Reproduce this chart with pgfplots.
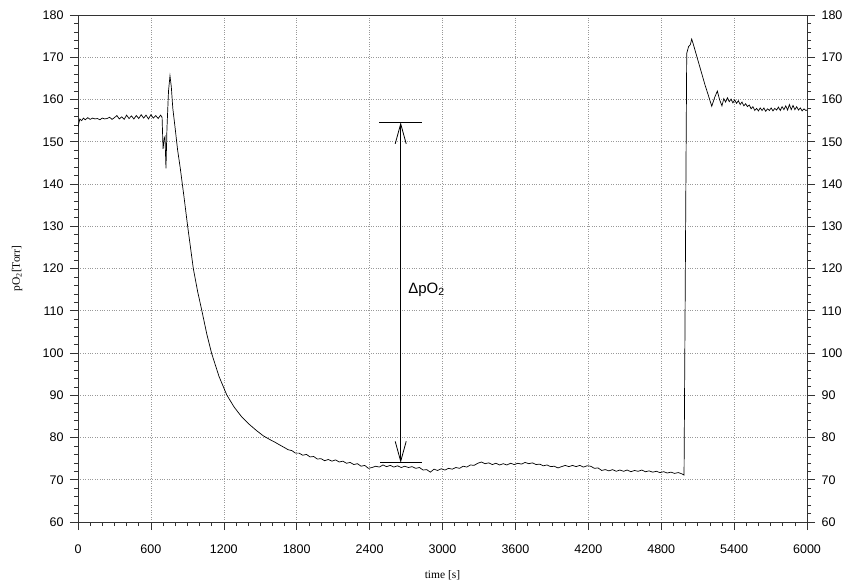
\documentclass[border=0pt]{standalone}
\usepackage{pgfplots}
\pgfplotsset{compat=1.18}
\usepackage{fontspec}
\setmainfont{Liberation Sans}
\newfontfamily\seriffont{Liberation Serif}
\usetikzlibrary{arrows.meta}

\pgfplotstableread{
t v
0 153.5
15 155.4
30 155.0
45 155.6
60 155.2
80 155.7
100 155.3
120 155.6
140 155.4
160 155.5
180 155.2
200 155.6
220 155.4
240 155.5
260 155.8
280 155.3
300 155.7
320 156.2
340 155.4
360 155.9
380 155.3
400 156.3
420 155.5
440 156.1
460 155.4
480 156.2
500 155.5
520 156.4
540 155.6
560 156.3
580 155.4
600 156.4
620 155.6
640 156.2
660 155.5
680 156.3
692 155.8
700 148.3
710 150.8
716 151.2
724 143.7
732 153.0
745 162.0
757 165.6
768 163.0
780 158.0
798 153.6
820 148.0
840 144.1
870 137.5
903 129.9
949 120.0
985 114.5
1018 110.2
1060 104.5
1100 99.9
1160 94.5
1224 90.1
1285 87.2
1347 84.9
1410 83.1
1471 81.6
1525 80.4
1580 79.5
1620 78.9
1650 78.4
1700 77.6
1730 77.1
1760 76.9
1790 76.3
1820 76.3
1850 75.8
1880 76.0
1910 75.4
1940 75.5
1970 74.9
2000 75.0
2030 74.5
2060 74.8
2090 74.4
2120 74.7
2150 74.2
2180 74.4
2210 73.9
2240 74.1
2270 73.6
2300 73.8
2330 73.2
2360 73.4
2390 72.7
2420 72.9
2450 73.2
2480 73.0
2510 73.5
2540 73.1
2570 73.4
2600 73.0
2630 73.3
2660 72.9
2690 73.2
2720 72.9
2750 73.1
2780 72.7
2810 72.9
2840 72.3
2870 72.4
2900 71.8
2930 72.5
2960 72.2
2990 72.6
3020 72.3
3050 72.7
3080 72.5
3110 72.9
3140 72.7
3170 73.2
3200 73.0
3230 73.5
3260 73.4
3290 73.9
3320 74.2
3350 73.8
3380 74.0
3410 73.6
3440 73.9
3470 73.5
3500 73.8
3530 73.5
3560 73.9
3590 73.6
3620 73.9
3650 73.7
3680 74.1
3710 73.8
3740 74.0
3770 73.6
3800 73.7
3830 73.3
3860 73.5
3890 73.1
3920 73.2
3950 72.8
3980 73.1
4010 73.4
4040 73.1
4070 73.4
4100 73.1
4130 73.4
4160 73.0
4190 73.3
4220 73.2
4250 72.7
4280 72.8
4310 72.2
4340 72.4
4370 72.1
4400 72.4
4430 72.0
4460 72.3
4490 72.0
4520 72.3
4550 71.9
4580 72.2
4610 72.0
4640 72.3
4670 71.9
4700 72.1
4730 71.8
4760 72.0
4790 71.7
4820 71.9
4850 71.6
4880 71.8
4910 71.5
4940 71.7
4970 71.4
4988 71.1
5010 170.9
5025 172.5
5040 173.0
5051 174.3
5065 173.0
5078 171.7
5100 169.5
5133 166.2
5160 163.5
5190 160.8
5216 158.4
5240 160.5
5262 162.0
5280 160.0
5300 158.5
5315 160.2
5330 159.4
5345 160.4
5360 159.5
5375 160.1
5390 159.2
5405 159.9
5420 159.1
5435 159.7
5450 158.8
5465 159.4
5480 158.5
5495 159.0
5510 158.3
5525 158.7
5540 157.8
5555 158.3
5570 157.4
5585 157.9
5600 157.3
5615 158.0
5630 157.4
5645 158.0
5660 157.2
5675 157.8
5690 157.4
5705 158.0
5720 157.3
5735 157.9
5750 157.5
5765 158.2
5780 157.4
5795 158.3
5810 157.6
5825 158.5
5840 157.5
5855 158.8
5870 157.6
5885 158.6
5900 157.6
5915 158.3
5930 157.5
5945 158.0
5960 157.3
5975 157.8
5990 157.4
6000 157.5
}\datatable

\pgfplotsset{
  myaxis/.style={
    scale only axis, width=729pt, height=507pt,
    at={(78pt,62pt)}, anchor=south west,
    xmin=0, xmax=6000, ymin=60, ymax=180,
    xtick={0,600,...,6000}, ytick={60,70,...,180},
    minor x tick num=5, minor y tick num=4,
    tick align=outside, major tick length=8pt, minor tick length=4pt,
    tick style={black!80, line width=0.6pt},
    axis line style={black!80, line width=0.7pt},
    ticklabel style={font=\fontsize{12.5}{14}\selectfont},
    /pgf/number format/assume math mode=true,
    /pgf/number format/1000 sep={},
  }
}

\begin{document}
\begin{tikzpicture}
\path[use as bounding box] (0pt,0pt) rectangle (854pt,584pt);
\begin{axis}[myaxis,
  xtick pos=left, ytick pos=left,
  xticklabel style={yshift=-11pt},
  yticklabel style={xshift=-3pt},
  grid=major, major grid style={dotted, black!40, line width=0.6pt},
  xlabel={\seriffont time [s]},
  xlabel style={font=\fontsize{11.5}{13}\selectfont, at={(axis description cs:0.5,0)}, yshift=-53pt, anchor=center},
  ylabel={\seriffont pO\textsubscript{2}[Torr]},
  ylabel style={font=\fontsize{11.5}{13}\selectfont, at={(axis description cs:0,0.5)}, yshift=61pt, anchor=center},
]
\addplot[black, line width=0.7pt, mark=none] table[x=t, y=v] {\datatable};
\draw[black, line width=0.9pt] (axis cs:2480,154.6) -- (axis cs:2830,154.6);
\draw[black, line width=0.9pt] (axis cs:2486,74.0) -- (axis cs:2830,74.0);
\draw[black, line width=0.8pt, {Straight Barb[length=20pt,width=11pt]}-{Straight Barb[length=20pt,width=11pt]}] (axis cs:2656,154.6) -- (axis cs:2656,74.0);
\node[anchor=west, font=\fontsize{15}{17}\selectfont] at (axis cs:2690,115) {ΔpO\textsubscript{2}};
\end{axis}
\begin{axis}[myaxis,
  axis x line=none, axis y line*=right,
  yticklabel pos=right, ytick pos=right,
  yticklabel style={xshift=3pt},
]
\end{axis}
\end{tikzpicture}
\end{document}
